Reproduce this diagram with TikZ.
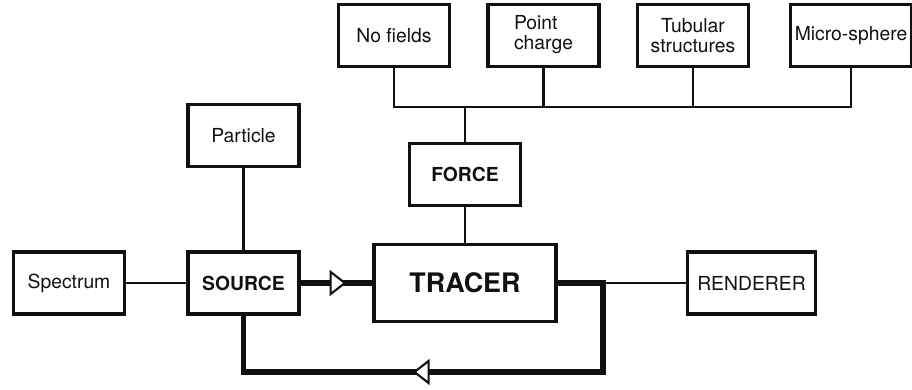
\documentclass[tikz,border=0pt]{standalone}
\usepackage{fontspec}
\setmainfont{TeX Gyre Heros}
\usetikzlibrary{arrows.meta,calc,decorations.markings,positioning}
\definecolor{trInk}{HTML}{111111}
\tikzset{
  tr box/.style={
    draw=trInk,
    line width=1.8pt,
    inner sep=0pt,
    minimum width=2.22cm,
    minimum height=1.24cm,
    text=trInk,
    align=center,
    font=\fontsize{11}{11.5}\selectfont
  },
  tr box bold/.style={tr box, font=\bfseries\fontsize{11}{11.5}\selectfont},
  tr link/.style={draw=trInk, line width=1.5pt},
  tr flow/.style={
    draw=trInk,
    line width=3.1pt,
    postaction={decorate},
    decoration={markings, mark=at position #1 with {
      \arrow{Triangle[length=0.34cm,width=0.52cm,fill=white,line width=1.2pt]}}}
  }
}

\begin{document}
\begin{tikzpicture}[x=0.02cm,y=0.02cm]
  \useasboundingbox (0,0) rectangle (912,389);

  \node[tr box] (spectrum) at (69,106) {Spectrum};
  \node[tr box bold] (source) at (243.5,106) {SOURCE};
  \node[tr box] (particle) at (243.5,253.5) {Particle};
  \node[tr box bold, minimum width=3.64cm, minimum height=1.54cm,
        font=\bfseries\fontsize{15.3}{17}\selectfont] (tracer) at (465,106) {TRACER};
  \node[tr box bold] (force) at (465,214.5) {FORCE};
  \node[tr box, minimum width=2.56cm] (renderer) at (751.5,106) {RENDERER};

  \node[tr box] (nofields) at (394,353.5) {No fields};
  \node[tr box] (point) at (543.5,353.5) {\begin{tabular}{@{}l@{}}Point\\charge\end{tabular}};
  \node[tr box] (tubular) at (693,353.5) {Tubular\\structures};
  \node[tr box, minimum width=2.42cm] (micro) at (851,353.5) {Micro-sphere};

  \coordinate (bus) at (465,282);
  \coordinate (tap) at (603,106);
  \coordinate (loop) at (603,17);

  \draw[tr link] (nofields.south) |- (micro.south |- bus) -- (micro.south);
  \foreach \n in {point,tubular}
    \draw[tr link] (\n.south) -- (\n.south |- bus);
  \draw[tr link] (bus) -- (force.north);
  \draw[tr link] (force) -- (tracer);
  \draw[tr link] (particle) -- (source);
  \draw[tr link] (spectrum) -- (source);
  \draw[tr link] (tap) -- (renderer);

  \draw[tr flow=0.64] (source.east) -- (tracer.west);
  \draw[tr flow=0.59, line join=miter] (tracer.east) -- (tap) -- (loop) -| (source.south);
\end{tikzpicture}
\end{document}
